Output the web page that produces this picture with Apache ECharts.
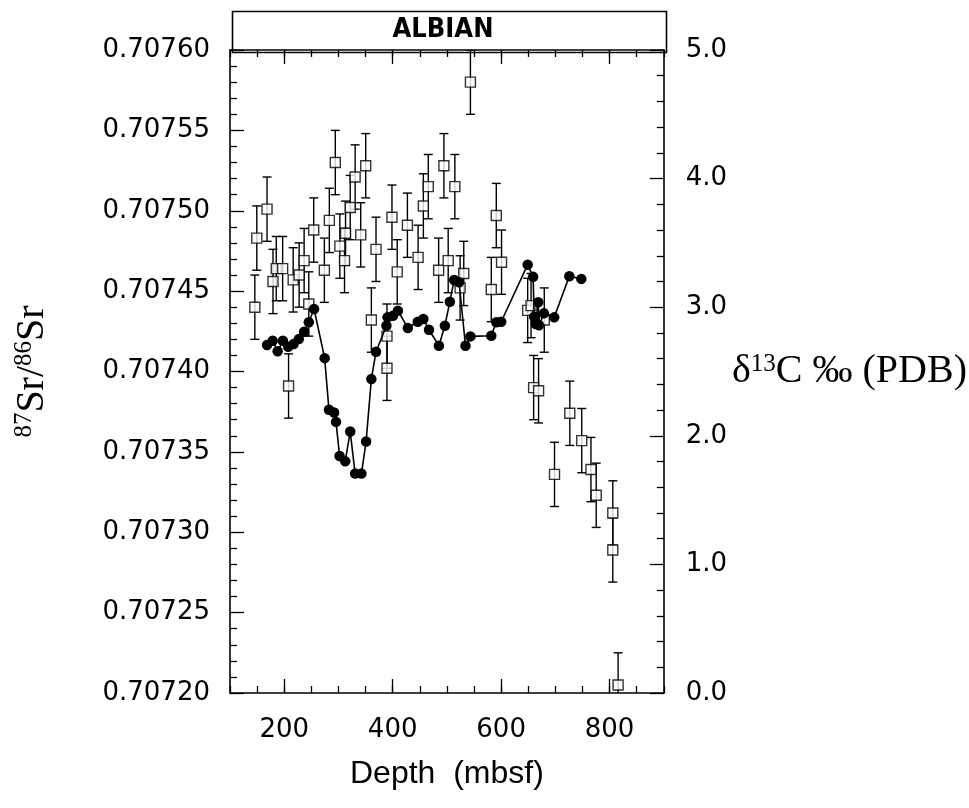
<!DOCTYPE html>
<html>
<head>
<meta charset="utf-8">
<script src="https://cdn.jsdelivr.net/npm/echarts@6/dist/echarts.min.js"></script>
<style>
html,body{margin:0;padding:0;background:#fff;}
#chart{width:969px;height:808px;}
</style>
</head>
<body>
<div id="chart"></div>
<script>
// Sr isotope samples (squares with error bars): depth (mbsf), 87Sr/86Sr, 2-sigma error
const srDepth = [145.8,149.4,168.3,179.3,185.3,197.1,208.0,216.5,227.5,236.7,245.3,254.4,274.0,283.2,294.2,302.6,311.2,313.1,321.7,330.8,341.1,350.3,360.7,369.3,389.5,389.5,398.7,408.4,427.2,446.9,456.6,465.7,484.8,494.5,502.4,514.7,524.4,531.1,543.4,581.9,591.1,600.8,649.0,655.2,660.0,669.1,679.6,698.5,726.7,748.7,765.7,775.4,806.0,806.0,815.8];
const srValue = [0.707440,0.707483,0.707501,0.707456,0.707464,0.707464,0.707391,0.707457,0.707460,0.707469,0.707442,0.707488,0.707463,0.707494,0.707530,0.707478,0.707469,0.707486,0.707502,0.707521,0.707485,0.707528,0.707432,0.707476,0.707422,0.707402,0.707496,0.707462,0.707491,0.707471,0.707503,0.707515,0.707463,0.707528,0.707469,0.707515,0.707452,0.707461,0.707580,0.707451,0.707497,0.707468,0.707438,0.707441,0.707390,0.707388,0.707432,0.707336,0.707374,0.707357,0.707339,0.707323,0.707312,0.707289,0.707205];
const srError = [0.00002,0.00002,0.00002,0.00002,0.00002,0.00002,0.00002,0.00002,0.00002,0.00002,0.00002,0.00002,0.00002,0.00002,0.00002,0.00002,0.00002,0.00002,0.00002,0.00002,0.00002,0.00002,0.00002,0.00002,0.00002,0.00002,0.00002,0.00002,0.00002,0.00002,0.00002,0.00002,0.00002,0.00002,0.00002,0.00002,0.00002,0.00002,0.00002,0.00002,0.00002,0.00002,0.00002,0.00002,0.00002,0.00002,0.00002,0.00002,0.00002,0.00002,0.00002,0.00002,0.00002,0.00002,0.00002];

// Carbon isotope curve (filled circles): depth (mbsf), d13C permil PDB
const cDepth = [168.3,178.7,187.9,197.6,207.3,217.2,226.9,236.7,245.3,255.0,274.6,282.5,292.0,295.5,302.1,312.5,321.7,330.8,342.4,351.0,360.7,369.3,388.5,390.5,400.5,409.7,428.0,446.3,456.6,467.0,485.3,496.3,505.5,513.4,522.5,534.3,543.4,581.9,591.1,600.2,649.0,659.0,661.0,664.0,668.5,670.0,679.0,697.9,725.8,747.9];
const cValue = [2.706,2.739,2.657,2.739,2.692,2.713,2.752,2.809,2.883,2.986,2.604,2.202,2.181,2.108,1.843,1.802,2.033,1.706,1.706,1.955,2.441,2.654,2.856,2.921,2.934,2.973,2.838,2.887,2.908,2.825,2.700,2.856,3.043,3.212,3.194,2.700,2.773,2.778,2.883,2.887,3.331,3.236,2.925,2.870,3.038,2.860,2.952,2.921,3.240,3.220];

// Axis ticks / labels
const depthMajorTicks = [200,400,600,800];
const stageLabel = 'ALBIAN';

const srData = srDepth.map((d,i)=>[d, srValue[i], srError[i]]);
const cData = cDepth.map((d,i)=>[d, cValue[i]]);

const black = '#000';
const labelFont = {fontFamily:'DejaVu Sans', fontSize:26, color:black};

const chart = echarts.init(document.getElementById('chart'), null, {renderer:'canvas'});
const xBase = {type:'value', min:100, max:900, splitLine:{show:false}};
chart.setOption({
  animation:false,
  backgroundColor:'#fff',
  grid:{left:230, right:305, top:50, bottom:115, containLabel:false},
  xAxis:[
    Object.assign({}, xBase, {position:'bottom', interval:50,
      axisLine:{onZero:false, lineStyle:{color:black, width:1.6}},
      axisTick:{inside:true, length:7, lineStyle:{color:black, width:1.3}},
      axisLabel:{show:false},
      name:'Depth  (mbsf)', nameLocation:'middle', nameGap:65,
      nameTextStyle:{fontFamily:'Liberation Sans', fontSize:32, color:black}
    }),
    Object.assign({}, xBase, {position:'bottom',
      axisLine:{show:false, onZero:false},
      axisTick:{inside:true, length:14, customValues:depthMajorTicks, lineStyle:{color:black, width:1.3}},
      axisLabel:Object.assign({margin:24, customValues:depthMajorTicks}, labelFont)
    }),
    Object.assign({}, xBase, {position:'top', interval:50,
      axisLine:{onZero:false, lineStyle:{color:black, width:1.6}},
      axisTick:{inside:true, length:7, lineStyle:{color:black, width:1.3}},
      axisLabel:{show:false}
    }),
    Object.assign({}, xBase, {position:'top',
      axisLine:{show:false, onZero:false},
      axisTick:{inside:true, length:14, customValues:depthMajorTicks, lineStyle:{color:black, width:1.3}},
      axisLabel:{show:false}
    })
  ],
  yAxis:[
    {type:'value', position:'left', min:0.7072, max:0.7076, interval:0.00005,
      splitLine:{show:false},
      axisLine:{lineStyle:{color:black, width:1.6}},
      axisTick:{inside:true, length:14, lineStyle:{color:black, width:1.3}},
      minorTick:{show:true, splitNumber:5, length:7, lineStyle:{color:black, width:1.3}},
      axisLabel:Object.assign({margin:20, formatter:v=>v.toFixed(5)}, labelFont),
      name:'{sup|87}{b|Sr/}{sup|86}{b|Sr}', nameLocation:'middle', nameRotate:90, nameGap:178,
      nameTextStyle:{color:black, rich:{
        b:{fontFamily:'Liberation Serif', fontSize:40, lineHeight:40, color:black, verticalAlign:'bottom'},
        sup:{fontFamily:'Liberation Serif', fontSize:25, lineHeight:40, color:black, verticalAlign:'top'}
      }}
    },
    {type:'value', position:'right', min:0, max:5, interval:1,
      splitLine:{show:false},
      axisLine:{lineStyle:{color:black, width:1.6}},
      axisTick:{inside:true, length:14, lineStyle:{color:black, width:1.3}},
      minorTick:{show:true, splitNumber:5, length:7, lineStyle:{color:black, width:1.3}},
      axisLabel:Object.assign({margin:22, formatter:v=>v.toFixed(1)}, labelFont),
      name:'{b|δ}{sup|13}{b|C ‰ (PDB)}', nameLocation:'middle', nameRotate:0, nameGap:66,
      nameTextStyle:{color:black, align:'left', rich:{
        b:{fontFamily:'Liberation Serif', fontSize:40, lineHeight:40, color:black, verticalAlign:'bottom'},
        sup:{fontFamily:'Liberation Serif', fontSize:25, lineHeight:40, color:black, verticalAlign:'top'}
      }}
    }
  ],
  graphic:[
    {type:'rect', left:230, top:9, shape:{x:0,y:0,width:434,height:41}, style:{fill:'none', stroke:black, lineWidth:1.6}},
    {type:'text', x:443, y:30, style:{text:stageLabel, fontFamily:'DejaVu Sans Condensed', fontWeight:'bold', fontSize:27, fill:black, align:'center', verticalAlign:'middle'}}
  ],
  series:[
    {type:'custom', name:'Sr error', xAxisIndex:0, yAxisIndex:0, clip:true, z:2,
      data:srData,
      renderItem:function(params, api){
        const x = api.value(0), y = api.value(1), e = api.value(2);
        const t = api.coord([x, y+e]), b = api.coord([x, y-e]);
        const hw = 4.5;
        const st = {stroke:black, lineWidth:1.4};
        return {type:'group', children:[
          {type:'line', shape:{x1:t[0],y1:t[1],x2:b[0],y2:b[1]}, style:st},
          {type:'line', shape:{x1:t[0]-hw,y1:t[1],x2:t[0]+hw,y2:t[1]}, style:st},
          {type:'line', shape:{x1:b[0]-hw,y1:b[1],x2:b[0]+hw,y2:b[1]}, style:st}
        ]};
      }
    },
    {type:'scatter', name:'87Sr/86Sr', xAxisIndex:0, yAxisIndex:0, z:3,
      data:srData.map(d=>[d[0], d[1]]),
      symbol:'rect', symbolSize:10,
      itemStyle:{color:'#fff', borderColor:black, borderWidth:1.4}
    },
    {type:'line', name:'d13C', xAxisIndex:0, yAxisIndex:1, z:4,
      data:cData, symbol:'circle', symbolSize:10.5, showAllSymbol:true,
      itemStyle:{color:black}, lineStyle:{color:black, width:1.6}
    }
  ]
});
</script>
</body>
</html>
